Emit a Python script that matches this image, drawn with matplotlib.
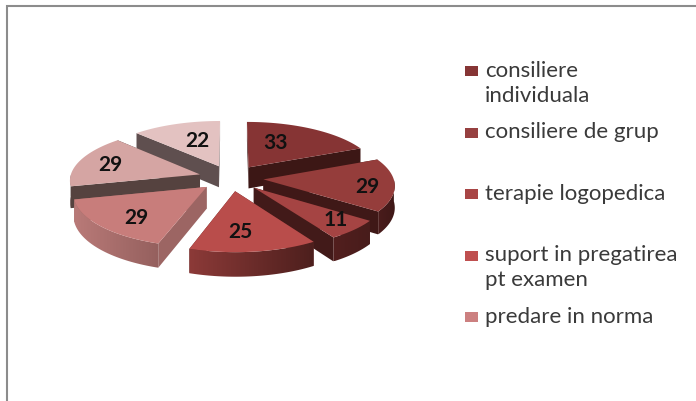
import matplotlib
matplotlib.use('Agg')
import matplotlib.pyplot as plt
import matplotlib.colors as mcolors
from matplotlib.patches import Polygon, Rectangle
import numpy as np

W, H = 696, 402

values = [33, 29, 11, 25, 29, 29, 22]
legend_labels = ['consiliere\nindividuala', 'consiliere de grup', 'terapie logopedica',
                 'suport in pregatirea\npt examen', 'predare in norma']

top_colors = ['#863434', '#953d3b', '#a54443', '#b94d4b', '#c87d7b', '#d5a5a3', '#e3c2c1']
legend_colors = ['#863535', '#964040', '#a84545', '#bf4f4f', '#cc8080']
face_colors = ['#3c1715', '#3f1817', '#421a19', '#5a2322', '#9c6563', '#55423f', '#5f4f4f']
wall_left = ['#3c1715', '#4a1c1c', '#521f1e', '#8c3a38', '#b97a78', '#6a5250', '#6a5a5a']
wall_right = ['#3c1715', '#3f1817', '#481c1b', '#4d1f1d', '#95605e', '#5a4644', '#5f4f4f']

# pixel layout of the tilted pie
cx, cy = 231, 179
rx, ry = 130, 52
persp = 0.10
explode = 0.25
depth = 21.5
label_pos = [(276, 143), (367, 187), (336, 220), (240, 232), (136, 218), (110, 165), (197, 141)]
draw_order = [6, 0, 5, 1, 4, 2, 3]


def project(x, y, drop=0.0):
    s = 1 / (1 + persp * y)
    return cx + rx * x * s, cy - ry * y * s + drop * s


def unit(th):
    return np.cos(np.radians(th)), np.sin(np.radians(th))


fig = plt.figure(figsize=(W / 100, H / 100), dpi=100)
ax = fig.add_axes([0, 0, 1, 1])

edges = 90 - 360 * np.concatenate([[0], np.cumsum(values)]) / sum(values)

for rank, i in enumerate(draw_order):
    t1, t2 = edges[i + 1], edges[i]
    ux, uy = unit((t1 + t2) / 2)
    x0, y0 = explode * ux, explode * uy
    z = 10 * rank
    # flat cut faces
    for th in (t1, t2):
        ex, ey = unit(th)
        ex, ey = x0 + ex, y0 + ey
        ax.add_patch(Polygon([project(x0, y0), project(ex, ey), project(ex, ey, depth),
                              project(x0, y0, depth)],
                             facecolor=face_colors[i], edgecolor='none', zorder=z + 1))
    # rim, only the part that faces the viewer, shaded left to right
    angles = np.linspace(t1, t2, 80)
    angles = angles[np.sin(np.radians(angles)) <= 0]
    if len(angles) > 1:
        rim_x, rim_y = unit(angles)
        upper = [project(x0 + a, y0 + b) for a, b in zip(rim_x, rim_y)]
        lower = [project(x0 + a, y0 + b, depth) for a, b in zip(rim_x, rim_y)]
        poly = Polygon(upper + lower[::-1], facecolor='none', edgecolor='none', zorder=z + 2)
        ax.add_patch(poly)
        xs = [p[0] for p in upper]
        ys = [p[1] for p in upper + lower]
        cmap = mcolors.LinearSegmentedColormap.from_list('rim', [wall_left[i], wall_right[i]])
        im = ax.imshow(np.linspace(0, 1, 128).reshape(1, -1), cmap=cmap, aspect='auto',
                       extent=(min(xs), max(xs), max(ys), min(ys)), zorder=z + 2)
        im.set_clip_path(poly)
    # top surface
    arc = np.linspace(t1, t2, 80)
    arc_x, arc_y = unit(arc)
    top = [project(x0, y0)] + [project(x0 + a, y0 + b) for a, b in zip(arc_x, arc_y)]
    ax.add_patch(Polygon(top, facecolor=top_colors[i], edgecolor='none', zorder=z + 3))

ax.set_xlim(0, W)
ax.set_ylim(H, 0)
ax.set_aspect('auto')
ax.axis('off')

ax.plot([7, 7, W], [H, 7, 7], color='#8c8c8c', linewidth=1.5, solid_joinstyle='miter', zorder=200)

for v, (x, y) in zip(values, label_pos):
    ax.text(x, y, str(v), ha='center', va='center', fontsize=15, fontweight='bold',
            family='Lato', color='#111111', zorder=200)

for i, (lab, col) in enumerate(zip(legend_labels, legend_colors)):
    y = 72 + i * 61.5
    ax.add_patch(Rectangle((465, y - 5), 13, 10, facecolor=col, edgecolor='none'))
    for j, line in enumerate(lab.split('\n')):
        ax.text(485, y + 5 + j * 25, line, ha='left', va='baseline', fontsize=16, family='Lato',
                color='#3a3a3a', zorder=200)

fig.savefig('out.png', dpi=100)
